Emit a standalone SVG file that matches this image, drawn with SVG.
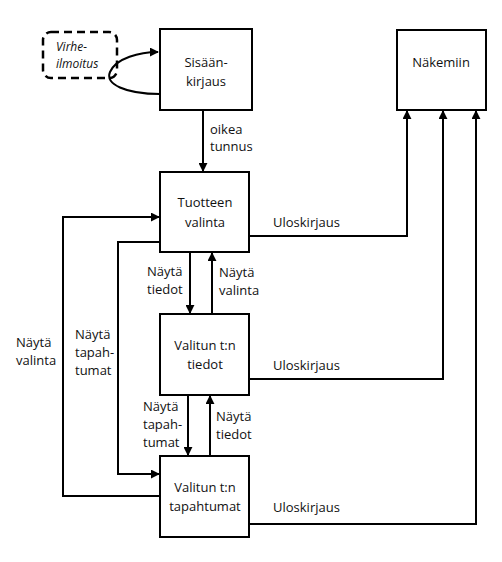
<svg xmlns="http://www.w3.org/2000/svg" width="502" height="562" viewBox="0 0 502 562">
<style>
.box{fill:#fff;stroke:#000;stroke-width:2}
.dash{fill:none;stroke:#000;stroke-width:2.5;stroke-dasharray:8,5}
.c{fill:none;stroke:#000;stroke-width:2}
text{font-family:"Open Sans","DejaVu Sans",sans-serif;font-size:13px;fill:#111}
.m{text-anchor:middle}
.i{font-style:italic;font-size:12px}
</style>
<defs>
<marker id="ah" viewBox="0 0 10 10" refX="9" refY="5" markerWidth="9" markerHeight="9" markerUnits="userSpaceOnUse" orient="auto">
<path d="M0,0 L10,5 L0,10 z" fill="#000"/>
</marker>
</defs>
<rect width="502" height="562" fill="#fff"/>
<g id="virheilmoitus">
<rect class="dash" x="43" y="32" width="74" height="46" rx="8"/>
<text class="i" x="56" y="51">Virhe-</text>
<text class="i" x="56" y="68">ilmoitus</text>
</g>
<g id="connectors">
<path class="c" d="M160,94 C125,94 105,84 110,72 C116,58 140,52 158,52" marker-end="url(#ah)"/>
<path class="c" d="M203,110 L203,171" marker-end="url(#ah)"/>
<path class="c" d="M190,252 L190,313" marker-end="url(#ah)"/>
<path class="c" d="M212,313 L212,253" marker-end="url(#ah)"/>
<path class="c" d="M188,395 L188,455" marker-end="url(#ah)"/>
<path class="c" d="M210,461 L210,396" marker-end="url(#ah)"/>
<path class="c" d="M160,496 L63,496 L63,217 L159,217" marker-end="url(#ah)"/>
<path class="c" d="M160,242 L118,242 L118,474 L159,474" marker-end="url(#ah)"/>
<path class="c" d="M249,236 L407,236 L407,111" marker-end="url(#ah)"/>
<path class="c" d="M249,379 L443,379 L443,111" marker-end="url(#ah)"/>
<path class="c" d="M249,524 L476,524 L476,111" marker-end="url(#ah)"/>
<text x="210" y="134">oikea</text>
<text x="210" y="151">tunnus</text>
<text x="147" y="276">Näytä</text>
<text x="147" y="294">tiedot</text>
<text x="219" y="277">Näytä</text>
<text x="219" y="295">valinta</text>
<text x="143" y="411">Näytä</text>
<text x="143" y="429">tapah-</text>
<text x="143" y="447">tumat</text>
<text x="216" y="421">Näytä</text>
<text x="216" y="439">tiedot</text>
<text x="16" y="347">Näytä</text>
<text x="16" y="365">valinta</text>
<text x="75" y="339">Näytä</text>
<text x="75" y="357">tapah-</text>
<text x="75" y="375">tumat</text>
<text x="273" y="227">Uloskirjaus</text>
<text x="273" y="370">Uloskirjaus</text>
<text x="273" y="512">Uloskirjaus</text>
</g>
<g id="sisaankirjaus">
<rect class="box" x="160" y="29" width="92" height="81"/>
<text class="m" x="206" y="67">Sisään-</text>
<text class="m" x="206" y="86">kirjaus</text>
</g>
<g id="nakemiin">
<rect class="box" x="397" y="30" width="89" height="80"/>
<text class="m" x="441" y="67">Näkemiin</text>
</g>
<g id="tuotteen-valinta">
<rect class="box" x="160" y="172" width="89" height="80"/>
<text class="m" x="205" y="207">Tuotteen</text>
<text class="m" x="205" y="227">valinta</text>
</g>
<g id="valitun-tiedot">
<rect class="box" x="160" y="314" width="89" height="81"/>
<text class="m" x="205" y="350">Valitun t:n</text>
<text class="m" x="205" y="369">tiedot</text>
</g>
<g id="valitun-tapahtumat">
<rect class="box" x="160" y="456" width="89" height="81"/>
<text class="m" x="205" y="492">Valitun t:n</text>
<text class="m" x="205" y="511">tapahtumat</text>
</g>
</svg>
